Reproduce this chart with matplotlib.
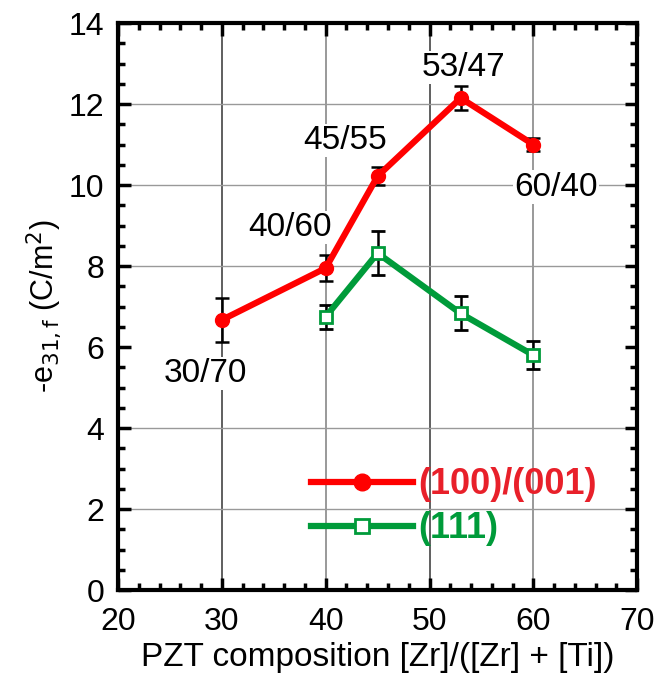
"""
    e31,f vs PZT composition, (100)/(001) and (111) films
"""
import numpy as np
import matplotlib.pyplot as plt
from matplotlib import font_manager as fm
from matplotlib.lines import Line2D
from matplotlib.ticker import MultipleLocator

plt.rcParams['font.family'] = ['Liberation Sans', 'DejaVu Sans']

# data
x_100 = [30, 40, 45, 53, 60]
y_100 = [6.67, 7.95, 10.22, 12.15, 11.0]
err_100 = [0.55, 0.32, 0.22, 0.3, 0.16]

x_111 = [40, 45, 53, 60]
y_111 = [6.75, 8.32, 6.83, 5.8]
err_111 = [0.3, 0.55, 0.42, 0.35]

comp_labels = ["30/70", "40/60", "45/55", "53/47", "60/40"]
label_x = [28.4, 36.6, 41.9, 53.3, 62.2]
label_y = [5.35, 8.95, 11.1, 12.9, 9.95]

red = "#ff0000"
green = "#009b3a"

# pick the regular-width bold face, not the narrow one
bold_file = None
for f in fm.fontManager.ttflist:
    if "LiberationSans-Bold." in f.fname:
        bold_file = f.fname
        break
if bold_file:
    leg_font = fm.FontProperties(fname=bold_file, size=26)
else:
    leg_font = fm.FontProperties(family="DejaVu Sans", weight="bold", size=24)

fig = plt.figure(figsize=(6.59, 6.79), dpi=100)
ax = fig.add_axes([0.179, 0.131, 0.788, 0.835])

# grid
for gx, col in zip([30, 40, 50, 60], ["#444444", "#888888", "#444444", "#888888"]):
    ax.axvline(gx, color=col, lw=1.2, zorder=0)
for gy in [2, 4, 8, 10, 12]:
    ax.axhline(gy, color="#999999", lw=1.0, zorder=0)

ax.errorbar(x_100, y_100, yerr=err_100, color=red, lw=4.5, marker="o", ms=10,
            ecolor="black", elinewidth=1.8, capsize=5, capthick=1.8, zorder=3)
ax.errorbar(x_111, y_111, yerr=err_111, color=green, lw=4.5, marker="s", ms=8,
            mfc="white", mec=green, mew=2, ecolor="black", elinewidth=1.8,
            capsize=5, capthick=1.8, zorder=3)

for t, tx, ty in zip(comp_labels, label_x, label_y):
    ax.text(tx, ty, t, fontsize=24, ha="center", va="center", zorder=2,
            bbox=dict(facecolor="white", edgecolor="none", pad=1))

ax.set_xlim(20, 70)
ax.set_ylim(0, 14)
ax.xaxis.set_major_locator(MultipleLocator(10))
ax.xaxis.set_minor_locator(MultipleLocator(2))
ax.yaxis.set_major_locator(MultipleLocator(2))
ax.yaxis.set_minor_locator(MultipleLocator(0.5))
ax.tick_params(which="both", direction="in", top=True, right=True, width=2.5)
ax.tick_params(which="major", length=9, labelsize=23)
ax.tick_params(axis="x", which="major", pad=12)
ax.tick_params(axis="y", which="major", pad=10)
ax.tick_params(which="minor", length=5)
for s in ax.spines.values():
    s.set_linewidth(3)

ax.set_xlabel("PZT composition [Zr]/([Zr] + [Ti])", fontsize=24, labelpad=4)
ax.set_ylabel(r"-e$_{\mathrm{31,f}}$ (C/m$^2$)", fontsize=22, labelpad=4)

handles = [
    Line2D([], [], color=red, lw=4.5, marker="o", ms=12),
    Line2D([], [], color=green, lw=4.5, marker="s", ms=10, mfc="white",
           mec=green, mew=2),
]
leg = ax.legend(handles, ["(100)/(001)", "(111)"], loc="lower left",
                bbox_to_anchor=(0.31, 0.02), frameon=False,
                handlelength=2.8, handletextpad=0.15, labelspacing=0.25,
                prop=leg_font)
for txt, c in zip(leg.get_texts(), ["#e8202a", green]):
    txt.set_color(c)

fig.savefig("out.png", dpi=100)
